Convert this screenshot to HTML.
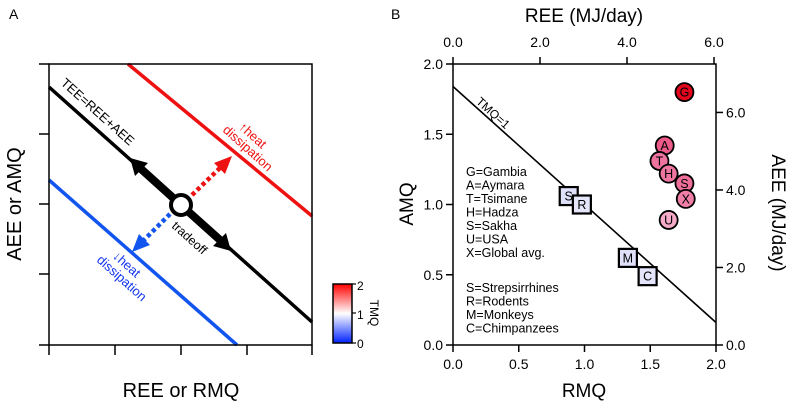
<!DOCTYPE html>
<html><head><meta charset="utf-8"><style>
body{margin:0;background:#fff;width:794px;height:403px;overflow:hidden}
text{font-family:"Liberation Sans",Arial,sans-serif;fill:#000}
</style></head><body>
<svg width="794" height="403" viewBox="0 0 794 403">
<defs>
<linearGradient id="cb" x1="0" y1="1" x2="0" y2="0">
<stop offset="0" stop-color="#0022ff"/><stop offset="0.5" stop-color="#ffffff"/><stop offset="1" stop-color="#ff0000"/>
</linearGradient>
</defs>
<g>
<text x="9" y="19" font-size="14">A</text>
<line x1="128" y1="64" x2="312" y2="216" stroke="#ee1111" stroke-width="3.5"/>
<line x1="49" y1="180" x2="237" y2="345" stroke="#1155ee" stroke-width="3.5"/>
<line x1="49" y1="87" x2="312" y2="322" stroke="#000" stroke-width="3.5"/>
<line x1="181" y1="205" x2="140" y2="168" stroke="#000" stroke-width="8"/>
<polygon points="130,158 148,163 135,176" fill="#000"/>
<line x1="181" y1="205" x2="220" y2="240" stroke="#000" stroke-width="8"/>
<polygon points="231,251 213,246 226,233" fill="#000"/>
<line x1="192" y1="195" x2="222" y2="166" stroke="#ee1111" stroke-width="4.5" stroke-dasharray="4,3"/>
<polygon points="232,156 225,174 214,163" fill="#ee1111"/>
<line x1="170" y1="214" x2="142" y2="242" stroke="#1155ee" stroke-width="4.5" stroke-dasharray="4,3"/>
<polygon points="132,252 139,234 150,245" fill="#1155ee"/>
<circle cx="181" cy="205" r="10" fill="#fff" stroke="#000" stroke-width="4"/>
<text transform="translate(60,84) rotate(41.8)" font-size="13">TEE=REE+AEE</text>
<text transform="translate(171,227) rotate(41.8)" font-size="12.5">tradeoff</text>
<text transform="translate(238,128) rotate(41.8)" font-size="13" style="fill:#ee1111">↑heat</text>
<text transform="translate(222,131) rotate(41.8)" font-size="13" style="fill:#ee1111">dissipation</text>
<text transform="translate(112,257) rotate(41.8)" font-size="13" style="fill:#1133ee">↓heat</text>
<text transform="translate(96,261) rotate(41.8)" font-size="13" style="fill:#1133ee">dissipation</text>
<rect x="49" y="64" width="263" height="281" fill="none" stroke="#000" stroke-width="1.5"/>
<g stroke="#000" stroke-width="1.5">
<line x1="39" y1="64" x2="49" y2="64"/><line x1="39" y1="134" x2="49" y2="134"/><line x1="39" y1="204" x2="49" y2="204"/><line x1="39" y1="274" x2="49" y2="274"/><line x1="39" y1="345" x2="49" y2="345"/>
<line x1="49" y1="345" x2="49" y2="355"/><line x1="115" y1="345" x2="115" y2="355"/><line x1="181" y1="345" x2="181" y2="355"/><line x1="247" y1="345" x2="247" y2="355"/><line x1="312" y1="345" x2="312" y2="355"/>
</g>
<text x="181" y="397" font-size="20" text-anchor="middle">REE or RMQ</text>
<text transform="translate(21,204) rotate(-90)" font-size="20" text-anchor="middle">AEE or AMQ</text>
<rect x="333" y="284" width="19" height="59" fill="url(#cb)" stroke="#000" stroke-width="1.5"/>
<g stroke="#000" stroke-width="1.2"><line x1="352" y1="284" x2="356" y2="284"/><line x1="352" y1="313" x2="356" y2="313"/><line x1="352" y1="343" x2="356" y2="343"/></g>
<text x="357" y="290" font-size="12">2</text>
<text x="357" y="319" font-size="12">1</text>
<text x="357" y="348" font-size="12">0</text>
<text transform="translate(370,313) rotate(90)" font-size="12" text-anchor="middle">TMQ</text>
</g>
<g id="pb">
<text x="391" y="19" font-size="14">B</text>
<text x="584" y="22" font-size="19" text-anchor="middle">REE (MJ/day)</text>
<text x="584" y="397" font-size="19" text-anchor="middle">RMQ</text>
<text transform="translate(413,204) rotate(-90)" font-size="19" text-anchor="middle">AMQ</text>
<text transform="translate(772,213) rotate(90)" font-size="19" text-anchor="middle">AEE (MJ/day)</text>
<g font-size="12.5">
<text x="466" y="176">G=Gambia</text><text x="466" y="189.5">A=Aymara</text><text x="466" y="203">T=Tsimane</text><text x="466" y="216.5">H=Hadza</text><text x="466" y="230">S=Sakha</text><text x="466" y="243.5">U=USA</text><text x="466" y="257">X=Global avg.</text>
</g>
<g font-size="12.5">
<text x="466" y="292">S=Strepsirrhines</text><text x="466" y="305.5">R=Rodents</text><text x="466" y="319">M=Monkeys</text><text x="466" y="332.5">C=Chimpanzees</text>
</g>
</g>
<script>
const humanLabels=["G","A","T","H","S","X","U"];
const humanRMQ=[1.76,1.61,1.57,1.64,1.76,1.77,1.64];
const humanAMQ=[1.80,1.42,1.31,1.22,1.15,1.04,0.89];
const primateLabels=["S","R","M","C"];
const primateRMQ=[0.88,0.98,1.33,1.48];
const primateAMQ=[1.06,1.00,0.62,0.49];
const xTicks=["0.0","0.5","1.0","1.5","2.0"];
const yTicks=["0.0","0.5","1.0","1.5","2.0"];
const topTicks=["0.0","2.0","4.0","6.0"];
const rightTicks=["0.0","2.0","4.0","6.0"];
const lineIntercept=[1.84,0.16];
(function(){
const NS="http://www.w3.org/2000/svg";
const g=document.getElementById('pb');
const X0=453,X1=716,Y0=345,Y1=64;
const sx=v=>X0+v/2*(X1-X0), sy=v=>Y0-v/2*(Y0-Y1);
const sTop=v=>X0+v/6*(714-X0), sRight=v=>Y0-v/7.25*(Y0-Y1);
function el(t,a,p){const e=document.createElementNS(NS,t);for(const k in a)e.setAttribute(k,a[k]);(p||g).appendChild(e);return e;}
const ln=el('line',{x1:sx(0),y1:sy(lineIntercept[0]),x2:sx(2),y2:sy(lineIntercept[1]),stroke:'#000','stroke-width':1.6});


const ang=Math.atan2(sy(lineIntercept[1])-sy(lineIntercept[0]),sx(2)-sx(0))*180/Math.PI;
const tl=el('text',{transform:`translate(${sx(0.17)},${sy(lineIntercept[0]-0.84*0.17)-4}) rotate(${ang})`,'font-size':12});
tl.textContent='TMQ=1';


const fr=el('rect',{x:X0,y:Y1,width:X1-X0,height:Y0-Y1,fill:'none',stroke:'#000','stroke-width':1.5});


function col(t){t=Math.max(0,Math.min(2,t));let r,gg,b;if(t>=1){const f=Math.min(1,(t-1)/0.8);r=Math.round(255-30*f);gg=Math.round(255*(1-f));b=Math.round(255*Math.pow(1-f,0.6));}else{const f=Math.min(1,(1-t)/0.8);r=Math.round(232*(1-f));gg=Math.round(232*(1-0.85*f));b=250;}return `rgb(${r},${gg},${b})`;}
xTicks.forEach(t=>{const x=sx(+t);el('line',{x1:x,y1:Y0,x2:x,y2:Y0+7,stroke:'#000','stroke-width':1.5});const tx=el('text',{x:x,y:Y0+24,'font-size':14,'text-anchor':'middle'});tx.textContent=t;

});
yTicks.forEach(t=>{const y=sy(+t);el('line',{x1:X0-7,y1:y,x2:X0,y2:y,stroke:'#000','stroke-width':1.5});const tx=el('text',{x:X0-10,y:y+5,'font-size':14,'text-anchor':'end'});tx.textContent=t;

});
topTicks.forEach(t=>{const x=sTop(+t);el('line',{x1:x,y1:Y1-7,x2:x,y2:Y1,stroke:'#000','stroke-width':1.5});const tx=el('text',{x:x,y:Y1-17,'font-size':14,'text-anchor':'middle'});tx.textContent=t;

});
rightTicks.forEach(t=>{const y=sRight(+t);el('line',{x1:X1,y1:y,x2:X1+7,y2:y,stroke:'#000','stroke-width':1.5});const tx=el('text',{x:X1+10,y:y+5,'font-size':14});tx.textContent=t;

});
primateLabels.forEach((l,i)=>{const x=sx(primateRMQ[i]),y=sy(primateAMQ[i]);const tmq=(primateRMQ[i]+primateAMQ[i])/2;
const r=el('rect',{x:x-9,y:y-9,width:18,height:18,fill:col(tmq),stroke:'#000','stroke-width':2.2});


const t=el('text',{x:x,y:y+4.5,'font-size':12.5,'text-anchor':'middle'});t.textContent=l;});
humanLabels.forEach((l,i)=>{const x=sx(humanRMQ[i]),y=sy(humanAMQ[i]);const tmq=(humanRMQ[i]+humanAMQ[i])/2;
const c=el('circle',{cx:x,cy:y,r:9,fill:col(tmq),stroke:'#000','stroke-width':1.8});


const t=el('text',{x:x,y:y+4.5,'font-size':12.5,'text-anchor':'middle'});t.textContent=l;});
})();
</script>
</svg>
</body></html>
